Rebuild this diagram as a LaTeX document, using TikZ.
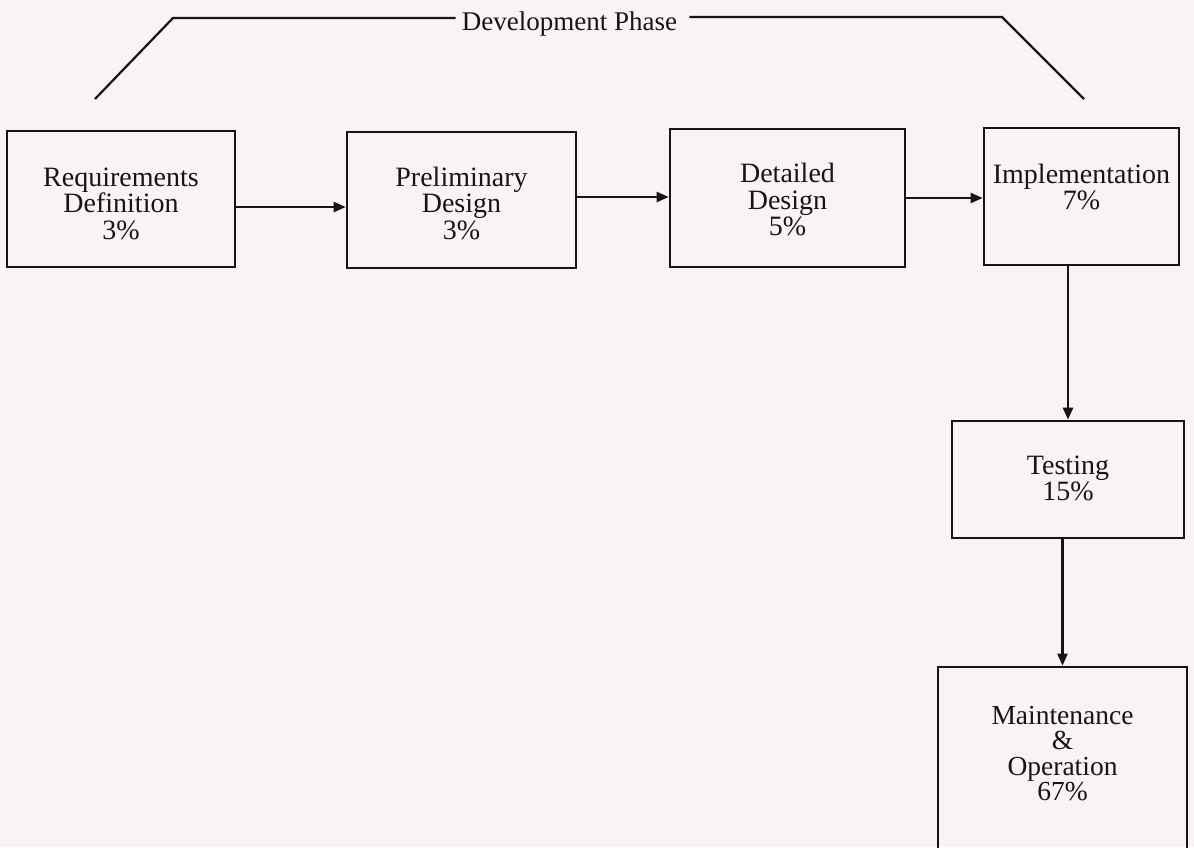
\documentclass[tikz,border=0pt]{standalone}
\usepackage{fontspec}
\setmainfont{Liberation Serif}
\usetikzlibrary{arrows.meta}

\definecolor{paper}{RGB}{249,244,243}
\definecolor{ink}{RGB}{24,20,20}

\tikzset{
  phasebox/.style={draw=ink, line width=2.6pt, rectangle, inner sep=0pt, fill=none},
  boxtext/.style={anchor=north, inner sep=0pt, align=center, text=ink,
    font=\fontsize{28}{26.5}\selectfont},
  flow/.style={draw=ink, line width=2.2pt, -{Triangle[length=12pt,width=10pt]}},
  bracket/.style={draw=ink, line width=2.2pt, line join=miter},
}

\begin{document}
\begin{tikzpicture}[x=1pt, y=-1pt]
  % page frame and paper tone
  \clip (0,0) rectangle (1194,847);
  \fill[paper] (0,0) rectangle (1194,847);

  % process boxes
  \node[phasebox, minimum width=228pt, minimum height=136pt] (req)    at (121,199)     {};
  \node[phasebox, minimum width=229pt, minimum height=136pt] (prelim) at (461.5,200)   {};
  \node[phasebox, minimum width=235pt, minimum height=138pt] (det)    at (787.5,198)   {};
  \node[phasebox, minimum width=195pt, minimum height=137pt] (impl)   at (1081.5,196.5){};
  \node[phasebox, minimum width=232pt, minimum height=117pt] (test)   at (1068,479.5)  {};
  \node[phasebox, minimum width=249pt, minimum height=187pt] (maint)  at (1062.5,760.5){};

  % box captions
  \node[boxtext] (reqt)    at ([yshift=-38pt]req.north)    {Requirements\\Definition\\3\%};
  \node[boxtext] (prelimt) at ([yshift=-36pt]prelim.north) {Preliminary\\Design\\3\%};
  \node[boxtext] (dett)    at ([yshift=-35.5pt]det.north)  {Detailed\\Design\\5\%};
  \node[boxtext] (implt)   at ([yshift=-37pt]impl.north)   {Implementation\\7\%};
  \node[boxtext] (testt)   at ([yshift=-36pt]test.north)   {Testing\\15\%};
  \node[boxtext, font=\fontsize{27.5}{25.5}\selectfont] (maintt) at ([yshift=-40pt]maint.north)
    {Maintenance\\\&\\Operation\\67\%};

  % flow between phases
  \draw[flow] (req.east |- 0,207)    -- (prelim.west |- 0,207);
  \draw[flow] (prelim.east |- 0,197) -- (det.west |- 0,197);
  \draw[flow] (det.east |- 0,198)    -- (impl.west |- 0,198);
  \draw[flow] (test.north |- impl.south) -- (test.north);
  \draw[flow] (maint.north |- test.south) -- (maint.north);

  % development phase bracket
  \node[inner sep=0pt, text=ink, font=\fontsize{27}{30}\selectfont] (dev) at (569.5,24) {Development Phase};
  \coordinate (bl) at (95,99);
  \coordinate (br) at (1084,99);
  \draw[bracket] (bl) -- (173,18) -- ([xshift=-6pt]dev.west |- 0,18);
  \draw[bracket] ([xshift=12pt]dev.east |- 0,17) -- (1002,17) -- (br);
\end{tikzpicture}
\end{document}
